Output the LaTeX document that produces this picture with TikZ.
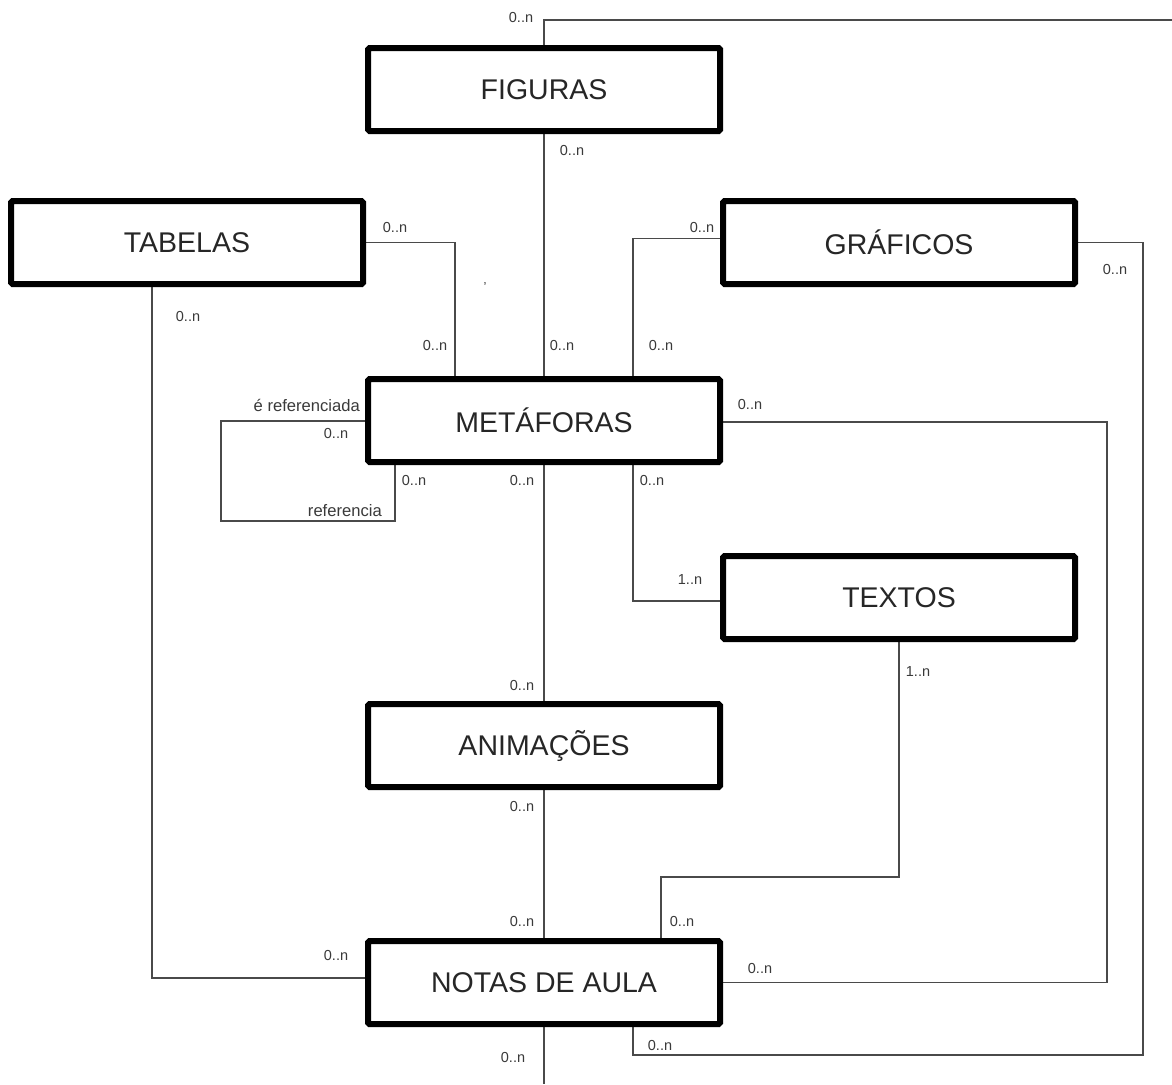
\documentclass[tikz,border=0pt]{standalone}
\usepackage{fontspec}
\setmainfont{Liberation Sans}
\usetikzlibrary{calc}
\definecolor{linegray}{HTML}{4A4A4A}
\definecolor{labgray}{HTML}{3A3A3A}
\pgfdeclarelayer{background}
\pgfsetlayers{background,main}
\tikzset{
  entity/.style={draw=black, line width=6pt, rounded corners=1.5pt, fill=white,
    minimum width=352pt, minimum height=83pt, inner sep=0pt, outer sep=0pt,
    font=\fontsize{28.5}{32}\selectfont, text=black!85},
  rel/.style={draw=linegray, line width=1.3pt},
  card/.style={inner sep=0pt, font=\fontsize{14.5}{16}\selectfont, text=labgray},
  role/.style={card, font=\fontsize{16.6}{18}\selectfont},
}
\begin{document}
\begin{tikzpicture}[x=1pt, y=-1pt]
\useasboundingbox (0,0) rectangle (1172,1084);

% entities
\node[entity] (fig) at (544,89.5) {FIGURAS};
\node[entity] (tab) at (187,242.5) {TABELAS};
\node[entity] (gra) at (899,242.5) {GRÁFICOS};
\node[entity] (met) at (544,420.5) {METÁFORAS};
\node[entity] (txt) at (899,597.5) {TEXTOS};
\node[entity] (ani) at (544,745.5) {ANIMAÇÕES};
\node[entity] (not) at (544,982.5) {NOTAS DE AULA};

% free ends and bend points of the long connectors
\coordinate (topend) at (1172,20);
\coordinate (botend) at (544,1084);
\coordinate (rgtA) at (1143,1055);
\coordinate (rgtB) at (1107,700);

% relationships, drawn beneath the boxes
\begin{pgfonlayer}{background}
\draw[rel] (fig.north) |- (topend);
\draw[rel] (fig.south) -- (met.north);
\draw[rel] (tab.east) -| ($(met.north)+(-89,0)$);
\draw[rel] ($(gra.west)+(0,-4)$) -| ($(met.north)+(89,0)$);
\draw[rel] (gra.east) -| (rgtA) -| ($(not.south)+(89,0)$);
\draw[rel] ($(met.east)+(0,1.5)$) -| (rgtB) |- (not.east);
\draw[rel] ($(met.south)+(89,0)$) |- ($(txt.west)+(0,3.5)$);
\draw[rel] (txt.south) -- ++(0,238) -| ($(not.north)+(117,0)$);
\draw[rel] (met.south) -- (ani.north);
\draw[rel] (ani.south) -- (not.north);
\draw[rel] (not.south) -- (botend);
\draw[rel] ($(tab.south)+(-35,0)$) |- ($(not.west)+(0,-4.5)$);
\draw[rel] ($(met.west)+(0,0.5)$) -- ++(-147,0) |- ($(met.south)+(-149,59)$) -- ($(met.south)+(-149,0)$);
\end{pgfonlayer}

% cardinalities and role names
\node[card] (c1) at (521,18) {0..n};
\node[card] (c2) at (572,151) {0..n};
\node[card] (c3) at (395,228) {0..n};
\node[card] (c4) at (188,317) {0..n};
\node[card] (c5) at (702,228) {0..n};
\node[card] (c6) at (1115,270) {0..n};
\node[card] (c7) at (435,346) {0..n};
\node[card] (c8) at (562,346) {0..n};
\node[card] (c9) at (661,346) {0..n};
\node[role, anchor=east] (r1) at (360,405) {é referenciada};
\node[card] (c10) at (336,434) {0..n};
\node[card] (c11) at (750,405) {0..n};
\node[card] (c12) at (414,481) {0..n};
\node[card] (c13) at (522,481) {0..n};
\node[card] (c14) at (652,481) {0..n};
\node[role, anchor=east] (r2) at (382,511) {referencia};
\node[card] (c15) at (690,580) {1..n};
\node[card] (c16) at (918,672) {1..n};
\node[card] (c17) at (522,685) {0..n};
\node[card] (c18) at (522,806) {0..n};
\node[card] (c19) at (522,921) {0..n};
\node[card] (c20) at (682,921) {0..n};
\node[card] (c21) at (336,955) {0..n};
\node[card] (c22) at (760,968) {0..n};
\node[card] (c23) at (660,1045) {0..n};
\node[card] (c24) at (513,1057) {0..n};
\node[card, font=\fontsize{13}{13}\selectfont] (tick) at (485,287) {'};
\end{tikzpicture}
\end{document}
